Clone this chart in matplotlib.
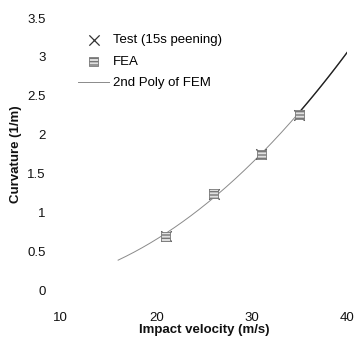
import numpy as np
import matplotlib
matplotlib.use('Agg')
import matplotlib.pyplot as plt

plt.rcParams['font.family'] = ['Liberation Sans', 'DejaVu Sans']

# Datos
test_v = [21, 26, 31, 35]
test_k = [0.70, 1.24, 1.75, 2.25]
fea_v = [21, 26, 31, 35]
fea_k = [0.69, 1.24, 1.74, 2.26]

# Puntos de la curva (polinomio de 2o grado)
curve_v = [16, 21, 26, 31, 35, 40]
curve_k = [0.39, 0.70, 1.23, 1.75, 2.26, 3.07]

xticks = [10, 20, 30, 40]
yticks = [0, 0.5, 1, 1.5, 2, 2.5, 3, 3.5]
ytick_labels = ['0', '0.5', '1', '1.5', '2', '2.5', '3', '3.5']

fig = plt.figure(figsize=(3.56, 3.40), dpi=100)
ax = fig.add_axes([0.171, 0.147, 0.804, 0.800])

coef = np.polyfit(curve_v, curve_k, 2)
vv = np.linspace(curve_v[0], curve_v[-1], 200)
kk = np.polyval(coef, vv)
ax.plot(vv, kk, color='#8a8a8a', lw=0.7, label='2nd Poly of FEM')
up = vv >= 35
ax.plot(vv[up], kk[up], color='#222222', lw=1.0)

ax.scatter(test_v, test_k, marker='x', s=55, color='#333333', linewidths=0.9,
           label='Test (15s peening)', zorder=3)
ax.scatter(fea_v, fea_k, marker='s', s=40, facecolor='#e0e0e0', edgecolor='#777777',
           linewidths=0.6, hatch='-----', label='FEA', zorder=4)

ax.set_xlim(10, 40)
ax.set_ylim(0, 3.5)
ax.set_xticks(xticks)
ax.set_yticks(yticks)
ax.set_yticklabels(ytick_labels)
ax.tick_params(length=0, labelsize=9.5, colors='#111111')
ax.tick_params(axis='x', pad=16)
ax.tick_params(axis='y', pad=11)
for s in ax.spines.values():
    s.set_visible(False)

ax.set_xlabel('Impact velocity (m/s)', fontsize=9.5, fontweight='bold', labelpad=0, color='#111111')
ax.set_ylabel('Curvature (1/m)', fontsize=9.5, fontweight='bold', labelpad=4, color='#111111')

h, l = ax.get_legend_handles_labels()
order = [1, 2, 0]
ax.legend([h[i] for i in order], [l[i] for i in order], loc='upper left',
          bbox_to_anchor=(0.02, 0.985), frameon=False, fontsize=9.5,
          handlelength=2.3, handletextpad=0.3, labelspacing=0.7)

fig.savefig('out.png', dpi=100)
